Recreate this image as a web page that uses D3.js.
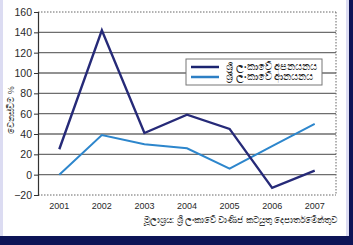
<!DOCTYPE html>
<html>
<head>
<meta charset="utf-8">
<script src="https://cdn.jsdelivr.net/npm/d3@7"></script>
<style>
  html, body { margin: 0; padding: 0; background: #fff; }
  svg { display: block; font-family: "Liberation Sans", Arial, sans-serif; }
</style>
</head>
<body>
<div id="chart"></div>
<script>
const years = ["2001", "2002", "2003", "2004", "2005", "2006", "2007"];
const exportsGrowth = [25, 142, 41, 59, 45, -13, 4];
const importsGrowth = [0, 39, 30, 26, 6, 28, 50];
const yTicks = [-20, 0, 20, 40, 60, 80, 100, 120, 140, 160];
const seriesNames = ["ශ්‍රී ලංකාවේ අපනයනය", "ශ්‍රී ලංකාවේ ආනයනය"];
const yTitle = "වෙනස්වීම %";
const sourceText = "මූලාශ්‍රය: ශ්‍රී ලංකාවේ වාණිජ කටයුතු දෙපාර්තමේන්තුව";

const W = 353, H = 245;
const margin = {top: 12, right: 17, bottom: 50, left: 38};
const width = 336 - margin.left;
const height = 195 - margin.top;

const svg = d3.select("#chart").append("svg")
  .attr("width", W).attr("height", H);

// frame: lavender left edge, navy right and bottom bars
svg.append("rect").attr("width", W).attr("height", H).attr("fill", "#fff");
svg.append("rect").attr("x", 0).attr("y", 0).attr("width", 3).attr("height", H).attr("fill", "#dcdcf2");
svg.append("rect").attr("x", 346).attr("y", 0).attr("width", 3).attr("height", H).attr("fill", "#dcdcf2");
svg.append("rect").attr("x", 349).attr("y", 0).attr("width", 4).attr("height", H).attr("fill", "#0d1456");
svg.append("rect").attr("x", 0).attr("y", 236).attr("width", W).attr("height", 9).attr("fill", "#0d1456");

const g = svg.append("g").attr("transform", `translate(${margin.left},${margin.top})`);

const x = d3.scaleBand().domain(years).range([0, width]).padding(0);
const y = d3.scaleLinear().domain([-20, 160]).range([height, 0]);

// gridlines
g.selectAll(".grid").data(yTicks).enter().append("line")
  .attr("x1", 0).attr("x2", width)
  .attr("y1", d => y(d)).attr("y2", d => y(d))
  .attr("stroke", d => (d === 160 || d === -20) ? "#666" : "#6e6e6e")
  .attr("stroke-width", d => (d === 160 || d === -20) ? 1 : 1.3)
  .attr("stroke-dasharray", d => (d === 160 || d === -20) ? "1.5,1.5" : null);

// right dotted border
g.append("line").attr("x1", width).attr("x2", width).attr("y1", 0).attr("y2", height)
  .attr("stroke", "#666").attr("stroke-dasharray", "1.5,1.5");

// y axis
const yAxis = g.append("g")
  .call(d3.axisLeft(y).tickValues(yTicks).tickSize(4).tickPadding(2));
yAxis.select(".domain").attr("stroke", "#333").attr("stroke-width", 1.2);
yAxis.selectAll(".tick line").attr("stroke", "#333");
yAxis.selectAll("text").attr("font-size", 10.5).attr("fill", "#2a2a2a");

// x axis labels
const xAxis = g.append("g").attr("transform", `translate(0,${height})`)
  .call(d3.axisBottom(x).tickSize(0).tickPadding(8));
xAxis.select(".domain").remove();
xAxis.selectAll("text").attr("font-size", 9).attr("fill", "#2a2a2a");

// lines
const line = d3.line().x((d, i) => x(years[i]) + x.bandwidth() / 2).y(d => y(d));
g.append("path").datum(importsGrowth).attr("d", line)
  .attr("fill", "none").attr("stroke", "#2d86cc").attr("stroke-width", 2);
g.append("path").datum(exportsGrowth).attr("d", line)
  .attr("fill", "none").attr("stroke", "#262a78").attr("stroke-width", 2.4);

// legend
const lg = svg.append("g").attr("transform", "translate(186,59)");
lg.append("rect").attr("width", 136).attr("height", 26)
  .attr("fill", "#fff").attr("stroke", "#777").attr("stroke-width", 1);
const legendColors = ["#1b2470", "#2d7fc4"];
seriesNames.forEach((name, i) => {
  const yy = 8 + i * 10;
  lg.append("line").attr("x1", 5).attr("x2", 33).attr("y1", yy).attr("y2", yy)
    .attr("stroke", legendColors[i]).attr("stroke-width", 2.5);
  lg.append("text").attr("x", 40).attr("y", yy).attr("dy", "0.35em")
    .attr("font-size", 9.5).attr("fill", "#222").text(name);
});

// y title
svg.append("text")
  .attr("transform", "translate(14,110) rotate(-90)")
  .attr("text-anchor", "middle").attr("font-size", 9).attr("fill", "#444")
  .text(yTitle);

// source
svg.append("text").attr("x", 337).attr("y", 223)
  .attr("text-anchor", "end").attr("font-size", 8.5).attr("fill", "#333")
  .text(sourceText);
</script>
</body>
</html>
